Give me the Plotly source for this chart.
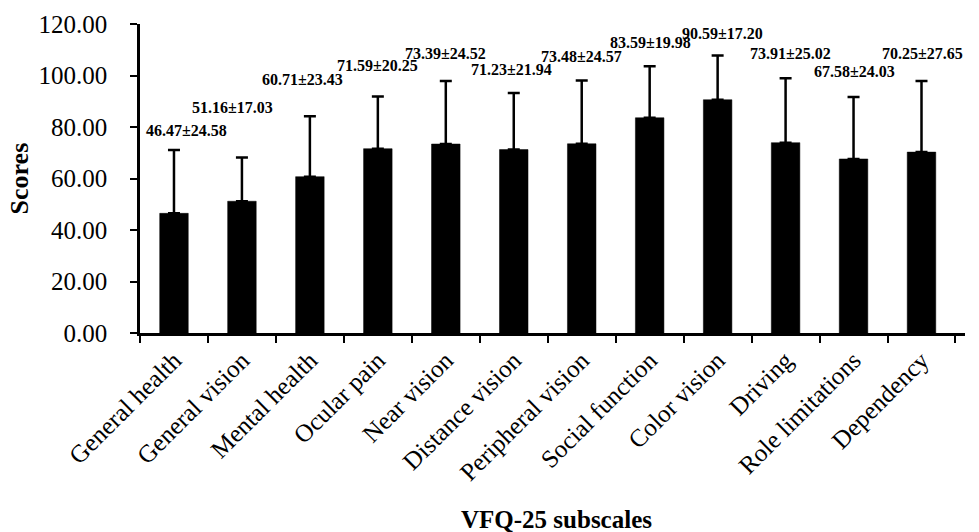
import plotly.graph_objects as go

categories = ["General health", "General vision", "Mental health", "Ocular pain",
              "Near vision", "Distance vision", "Peripheral vision", "Social function",
              "Color vision", "Driving", "Role limitations", "Dependency"]
means = [46.47, 51.16, 60.71, 71.59, 73.39, 71.23, 73.48, 83.59, 90.59, 73.91, 67.58, 70.25]
sds = [24.58, 17.03, 23.43, 20.25, 24.52, 21.94, 24.57, 19.98, 17.20, 25.02, 24.03, 27.65]
y_ticks = [0, 20, 40, 60, 80, 100, 120]

# label placement (layout only)
label_y = [78.8, 87.4, 98.3, 103.7, 108.7, 102.5, 107.2, 113.0, 116.5, 108.7, 101.4, 108.7]
label_dx = [13, -9, -7, 0, 0, -2, 0, 1, 5, 5, 1, 1]

FONT = "Liberation Serif, Times New Roman, serif"

fig = go.Figure()
fig.add_trace(go.Bar(
    x=categories, y=means,
    marker=dict(color="black", line=dict(color="black", width=0.5)),
    error_y=dict(type="data", array=sds, arrayminus=[0] * len(sds), symmetric=False,
                 color="black", thickness=2.5, width=6),
    showlegend=False,
))

for c, m, s, ly, dx in zip(categories, means, sds, label_y, label_dx):
    fig.add_annotation(x=c, y=ly, text=f"<b>{m:.2f}±{s:.2f}</b>", showarrow=False,
                       xshift=dx, font=dict(family=FONT, size=16, color="black"),
                       xanchor="center", yanchor="middle")

fig.add_annotation(xref="paper", yref="paper", x=-0.1455, y=0.5, text="<b>Scores</b>",
                   textangle=-90, showarrow=False, xanchor="center", yanchor="middle",
                   font=dict(family=FONT, size=26, color="black"))
fig.add_annotation(xref="paper", yref="paper", x=0.505, y=-0.605, text="<b>VFQ-25 subscales</b>",
                   showarrow=False, xanchor="center", yanchor="middle",
                   font=dict(family=FONT, size=25, color="black"))

fig.update_layout(
    width=979, height=532,
    margin=dict(l=140, r=14, t=24, b=199),
    paper_bgcolor="white", plot_bgcolor="white",
    bargap=0.58,
    font=dict(family=FONT, size=24, color="black"),
)
fig.update_xaxes(
    showline=True, linecolor="black", linewidth=2.5,
    ticks="outside", ticklen=7, tickwidth=2, tickcolor="black",
    tickson="boundaries", tickangle=-45,
    tickfont=dict(family=FONT, size=25, color="black"),
    showgrid=False, automargin=False,
)
fig.update_yaxes(
    range=[0, 120], tickvals=y_ticks, tickformat=".2f",
    showline=True, linecolor="black", linewidth=2.5,
    ticks="outside", ticklen=7, tickwidth=2, tickcolor="black",
    ticklabelstandoff=18,
    tickfont=dict(family=FONT, size=25, color="black"),
    showgrid=False, zeroline=False, automargin=False,
)

fig.write_html("out.html", config={"displayModeBar": False},
               post_script="document.body.style.margin='0';")
